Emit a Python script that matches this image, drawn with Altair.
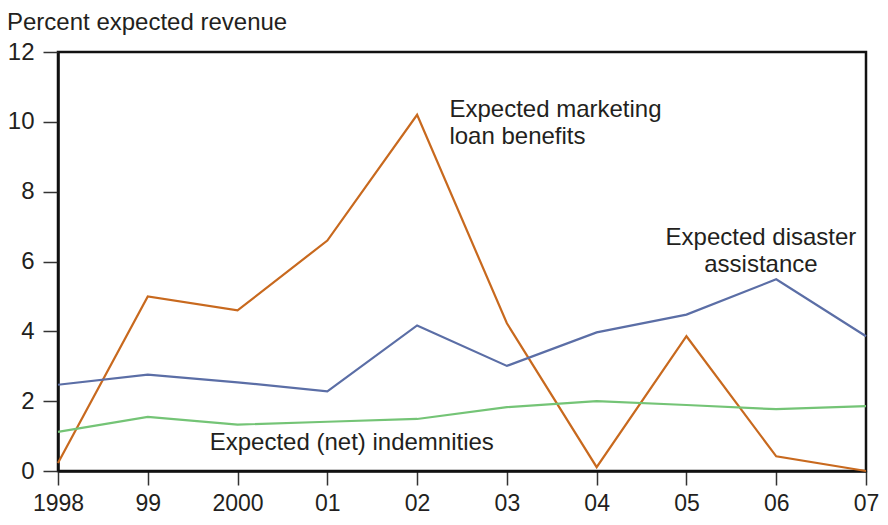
import altair as alt
import pandas as pd

years = [1998, 1999, 2000, 2001, 2002, 2003, 2004, 2005, 2006, 2007]
year_labels = ["1998", "99", "2000", "01", "02", "03", "04", "05", "06", "07"]
marketing = [0.23, 5.0, 4.6, 6.6, 10.2, 4.23, 0.11, 3.86, 0.42, 0.0]
disaster = [2.47, 2.76, 2.54, 2.28, 4.17, 3.01, 3.97, 4.48, 5.49, 3.86]
indemnities = [1.12, 1.55, 1.33, 1.41, 1.49, 1.83, 2.0, 1.89, 1.77, 1.86]

series_names = ["Expected marketing loan benefits", "Expected disaster assistance", "Expected (net) indemnities"]
series_colors = ["#C8691E", "#5B6EA6", "#74C476"]

rows = []
for name, vals in zip(series_names, [marketing, disaster, indemnities]):
    for y, v in zip(years, vals):
        rows.append({"year": y, "value": v, "series": name})
df = pd.DataFrame(rows)

ann = pd.DataFrame([
    {"year": 2002.36, "value": 10.14, "text": ["Expected marketing", "loan benefits"], "align": "left"},
    {"year": 2005.83, "value": 6.48, "text": ["Expected disaster", "assistance"], "align": "center"},
    {"year": 1999.69, "value": 0.59, "text": ["Expected (net) indemnities"], "align": "left"},
])

label_map = " : ".join(
    [f"datum.value == {y} ? '{l}'" for y, l in zip(years, year_labels)]
) + " : ''"

FONT = "Liberation Sans"
TXT = "#231F20"
FS = 24

x_scale = alt.Scale(domain=[1998, 2007], nice=False, zero=False)
y_scale = alt.Scale(domain=[0, 12], nice=False)

lines = alt.Chart(df).mark_line(strokeWidth=2.2).encode(
    x=alt.X("year:Q", scale=x_scale,
            axis=alt.Axis(values=years, labelExpr=label_map, title=None, grid=False,
                          tickSize=14, tickWidth=1.5, tickColor="#333", domainWidth=2.5,
                          domainColor="#111", labelFontSize=23, labelFont=FONT,
                          labelColor=TXT, labelPadding=7, labelFlush=False)),
    y=alt.Y("value:Q", scale=y_scale,
            axis=alt.Axis(values=[0, 2, 4, 6, 8, 10, 12], title=None, grid=False,
                          tickSize=15, tickWidth=1.5, tickColor="#333", domainWidth=2.5,
                          domainColor="#111", labelFontSize=FS, labelFont=FONT,
                          labelColor=TXT, labelPadding=9)),
    color=alt.Color("series:N", scale=alt.Scale(domain=series_names, range=series_colors), legend=None),
)

def ann_layer(sub, align):
    return alt.Chart(sub).mark_text(
        align=align, baseline="alphabetic", fontSize=FS, font=FONT, color=TXT, lineHeight=27
    ).encode(x=alt.X("year:Q", scale=x_scale), y=alt.Y("value:Q", scale=y_scale), text="text")

ann_left = ann_layer(ann[ann["align"] == "left"], "left")
ann_center = ann_layer(ann[ann["align"] == "center"], "center")

title = alt.Chart(pd.DataFrame({"t": ["Percent expected revenue"]})).mark_text(
    align="left", baseline="top", fontSize=FS, font=FONT, color=TXT
).encode(x=alt.value(-51), y=alt.value(-41), text="t")

chart = alt.layer(lines, ann_left, ann_center, title).properties(
    width=808, height=419,
    autosize=alt.AutoSizeParams(type="none"),
    padding={"left": 50, "top": 44, "right": 14, "bottom": 46},
).configure(
    background="white",
    view=alt.ViewConfig(stroke="#111", strokeWidth=2.5),
)

chart.save("out.html", embed_options={"renderer": "svg", "actions": False})
